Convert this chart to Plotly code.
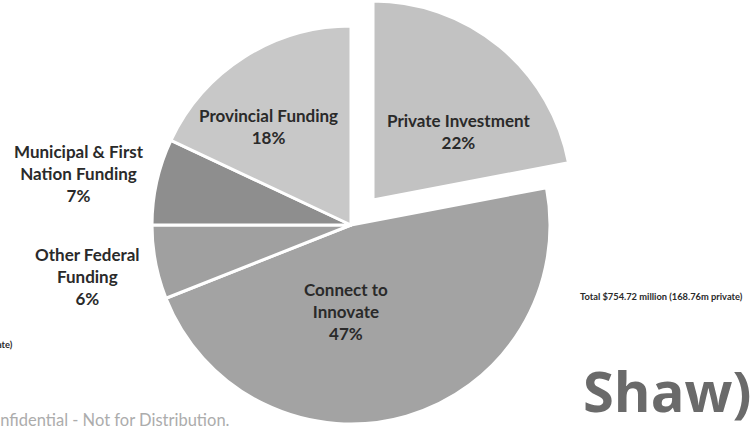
import plotly.graph_objects as go

# ---- data ----
categories = ["Private Investment", "Connect to Innovate", "Other Federal Funding",
              "Municipal & First Nation Funding", "Provincial Funding"]
shares = [22, 47, 6, 7, 18]  # percent
label_wrapped = ["Private Investment", "Connect to<br>Innovate", "Other Federal<br>Funding",
                 "Municipal & First<br>Nation Funding", "Provincial Funding"]
total_note = "Total $754.72 million (168.76m private)"
footer_note = "Confidential - Not for Distribution."
logo_text = "Shaw)"

# ---- styling ----
W, H = 753, 429
colors = ["#c2c2c2", "#a3a3a3", "#a0a0a0", "#8e8e8e", "#c8c8c8"]
R = 199
main_c = (351, 225)
pulled_c = (373, 200)
label_pos = [(458, 131), (346, 311), (87, 276), (79, 173), (268, 126)]

def dom(c):
    cx, cy = c
    yc = 1 - cy / H
    xc = cx / W
    return dict(x=[xc - 0.3, xc + 0.3], y=[yc - R / H, min(1.0, yc + R / H)])

fig = go.Figure()
# main pie: every slice except the exploded one
fig.add_trace(go.Pie(
    labels=categories, values=shares, sort=False, direction="clockwise", rotation=0,
    marker=dict(colors=["rgba(0,0,0,0)"] + colors[1:],
                line=dict(color="white", width=[0, 3, 3, 3, 3])),
    textinfo="none", hoverinfo="label+percent", showlegend=False, domain=dom(main_c)))
# exploded slice
fig.add_trace(go.Pie(
    labels=categories, values=shares, sort=False, direction="clockwise", rotation=0,
    marker=dict(colors=[colors[0]] + ["rgba(0,0,0,0)"] * 4,
                line=dict(color="white", width=[3, 0, 0, 0, 0])),
    textinfo="none", hoverinfo="skip", showlegend=False, domain=dom(pulled_c)))

ann = []
for txt, v, (px, py) in zip(label_wrapped, shares, label_pos):
    ann.append(dict(x=px / W, y=1 - py / H, xref="paper", yref="paper",
                    text=f"<b>{txt}<br>{v}%</b>", showarrow=False,
                    xanchor="center", yanchor="middle", align="center",
                    font=dict(family="Lato", size=17, color="#2a2a2a")))
ann.append(dict(x=578 / W, y=1 - 296 / H, xref="paper", yref="paper", text=f"<b>{total_note}</b>",
                showarrow=False, xanchor="left", yanchor="middle",
                font=dict(family="Lato", size=9.3, color="#2a2a2a")))
ann.append(dict(x=15 / W, y=1 - 344 / H, xref="paper", yref="paper", text=f"<b>{total_note}</b>",
                showarrow=False, xanchor="right", yanchor="middle",
                font=dict(family="Lato", size=9.3, color="#2a2a2a")))
ann.append(dict(x=231 / W, y=1 - 420 / H, xref="paper", yref="paper", text=footer_note,
                showarrow=False, xanchor="right", yanchor="middle",
                font=dict(family="Lato", size=16.5, color="#acacac")))
ann.append(dict(x=581 / W, y=1 - 390 / H, xref="paper", yref="paper", text=f"<b>{logo_text}</b>",
                showarrow=False, xanchor="left", yanchor="middle",
                font=dict(family="Open Sans", size=56, color="#6a6a6a")))

fig.update_layout(width=W, height=H, margin=dict(l=0, r=0, t=0, b=0),
                  paper_bgcolor="white", plot_bgcolor="white", annotations=ann)
fig.write_html("out.html")
